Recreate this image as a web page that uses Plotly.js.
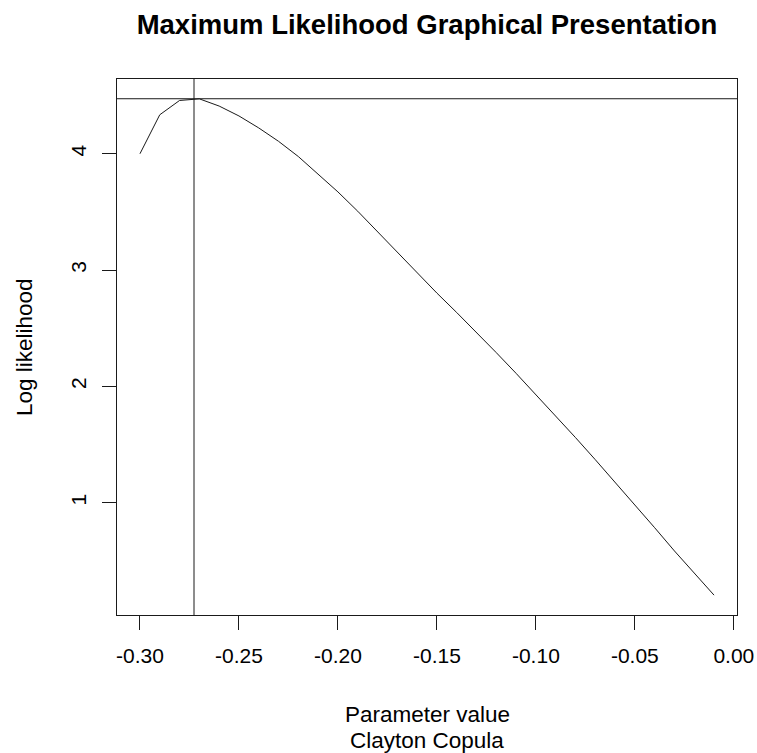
<!DOCTYPE html>
<html>
<head>
<meta charset="utf-8">
<script src="https://cdn.plot.ly/plotly-3.0.1.min.js"></script>
<style>
  html, body { margin: 0; padding: 0; background: #ffffff; }
  #plot { width: 757px; height: 753px; }
</style>
</head>
<body>
<div id="plot"></div>
<script>
// Profile log-likelihood of the Clayton copula parameter over a grid
const paramValues = [-0.30, -0.29, -0.28, -0.27, -0.26, -0.25, -0.24, -0.23, -0.22, -0.21,
                     -0.20, -0.19, -0.18, -0.17, -0.16, -0.15, -0.14, -0.13, -0.12, -0.11,
                     -0.10, -0.09, -0.08, -0.07, -0.06, -0.05, -0.04, -0.03, -0.02, -0.01];
const logLikValues = [4.000, 4.335, 4.458, 4.472, 4.410, 4.325, 4.222, 4.107, 3.976, 3.828,
                      3.672, 3.506, 3.330, 3.152, 2.975, 2.802, 2.635, 2.465, 2.290, 2.112,
                      1.931, 1.746, 1.560, 1.370, 1.178, 0.985, 0.785, 0.585, 0.392, 0.205];

// Maximum likelihood estimate and the log-likelihood reached there
const mleParam = [-0.2727];
const maxLogLik = [4.473];

const xTickVals = [-0.30, -0.25, -0.20, -0.15, -0.10, -0.05, 0.00];
const xTickText = ["-0.30", "-0.25", "-0.20", "-0.15", "-0.10", "-0.05", "0.00"];
const yTickVals = [1, 2, 3, 4];
const yTickText = ["1", "2", "3", "4"];

const xLabelLines = ["Parameter value", "Clayton Copula"];
const yLabel = "Log likelihood";
const mainTitle = "Maximum Likelihood Graphical Presentation";

// Axis ranges padded by 4% on each side, as in base graphics
function padded(values) {
  const lo = Math.min(...values), hi = Math.max(...values);
  const d = (hi - lo) * 0.04;
  return [lo - d, hi + d];
}

const FONT = "Liberation Sans, Arial, Helvetica, sans-serif";
const INK = "#1a1a1a";
const TICK_SIZE = 21;
const LABEL_SIZE = 22.5;

const M = { l: 117, r: 20, t: 79, b: 138 };
const plotW = 757 - M.l - M.r;
const plotH = 753 - M.t - M.b;

const trace = {
  x: paramValues,
  y: logLikValues,
  type: "scatter",
  mode: "lines",
  line: { color: INK, width: 1 },
  hoverinfo: "x+y",
  showlegend: false
};

const axisCommon = {
  tickmode: "array",
  ticks: "outside",
  ticklen: 14,
  tickwidth: 1,
  tickcolor: INK,
  showline: true,
  linecolor: INK,
  linewidth: 1,
  mirror: true,
  showgrid: false,
  zeroline: false,
  tickfont: { family: FONT, size: TICK_SIZE, color: "#000000" }
};

const labelFont = { family: FONT, size: LABEL_SIZE, color: "#000000" };

const layout = {
  width: 757,
  height: 753,
  paper_bgcolor: "#ffffff",
  plot_bgcolor: "#ffffff",
  margin: M,
  font: { family: FONT, color: "#000000", size: TICK_SIZE },
  title: {
    text: "<b>" + mainTitle + "</b>",
    font: { family: FONT, size: 27.5, color: "#000000" },
    xref: "paper", x: 0.5, xanchor: "center",
    yref: "container", y: 1 - 24 / 753, yanchor: "middle"
  },
  xaxis: Object.assign({}, axisCommon, {
    range: padded(paramValues),
    tickvals: xTickVals,
    ticktext: xTickText,
    ticklabelstandoff: 8
  }),
  yaxis: Object.assign({}, axisCommon, {
    range: padded(logLikValues),
    tickvals: yTickVals,
    ticktext: yTickText,
    tickangle: -90,
    ticklabelstandoff: 8
  }),
  annotations: [
    {
      text: xLabelLines[0], xref: "paper", yref: "paper",
      x: 0.5, y: -99 / plotH, xanchor: "center", yanchor: "middle",
      showarrow: false, font: labelFont
    },
    {
      text: xLabelLines[1], xref: "paper", yref: "paper",
      x: 0.5, y: -125 / plotH, xanchor: "center", yanchor: "middle",
      showarrow: false, font: labelFont
    },
    {
      text: yLabel, xref: "paper", yref: "paper",
      x: -93 / plotW, y: 0.5, xanchor: "center", yanchor: "middle",
      textangle: -90,
      showarrow: false, font: labelFont
    }
  ],
  shapes: [
    {
      type: "line", xref: "paper", yref: "y",
      x0: 0, x1: 1, y0: maxLogLik[0], y1: maxLogLik[0],
      line: { color: INK, width: 1 }
    },
    {
      type: "line", xref: "x", yref: "paper",
      x0: mleParam[0], x1: mleParam[0], y0: 0, y1: 1,
      line: { color: INK, width: 1 }
    }
  ]
};

Plotly.newPlot("plot", [trace], layout, { displayModeBar: false, staticPlot: true });
</script>
</body>
</html>
